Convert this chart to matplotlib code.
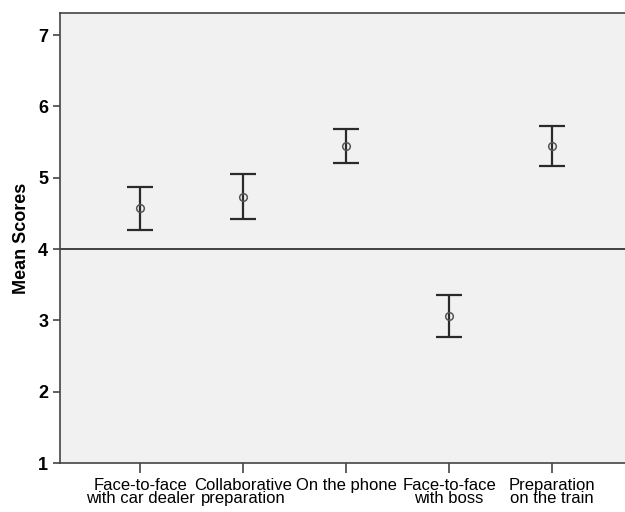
import matplotlib.pyplot as plt
import numpy as np

plt.rcParams['font.family'] = ['Liberation Sans', 'DejaVu Sans']

categories = ['Face-to-face\nwith car dealer', 'Collaborative\npreparation', 'On the phone',
              'Face-to-face\nwith boss', 'Preparation\non the train']
means = [4.57, 4.73, 5.445, 3.065, 5.44]
upper = [4.875, 5.05, 5.68, 3.36, 5.72]
lower = [4.27, 4.42, 5.21, 2.76, 5.16]

x = np.arange(1, len(categories) + 1)
means = np.array(means)
err = [means - np.array(lower), np.array(upper) - means]

fig = plt.figure(figsize=(6.25, 5.12), dpi=100)
ax = fig.add_axes([0.096, 0.0957, 0.904, 0.879])
ax.set_facecolor('#f1f1f1')

ax.axhline(4, color='#333333', lw=1.3, zorder=1)
ax.errorbar(x, means, yerr=err, fmt='none', ecolor='#2a2a2a', elinewidth=1.6,
            capsize=9.5, capthick=1.6, zorder=2)
ax.plot(x, means, 'o', ms=5.5, mfc='none', mec='#555555', mew=1.1, zorder=3)

ax.set_xlim(0.22, 5.71)
ax.set_ylim(1, 7.31)
ax.set_yticks([1, 2, 3, 4, 5, 6, 7])
ax.set_xticks(x)
ax.set_xticklabels(categories, fontsize=12, linespacing=0.9)
for lab in ax.get_yticklabels():
    lab.set_fontweight('bold')
    lab.set_fontsize(13)
ax.set_ylabel('Mean Scores', fontsize=13, fontweight='bold', labelpad=6)

for s in ['left', 'bottom', 'top']:
    ax.spines[s].set_color('#444444')
    ax.spines[s].set_linewidth(1.2)
ax.spines['right'].set_visible(False)
ax.tick_params(axis='both', color='#444444', width=1.2, length=5)
ax.tick_params(axis='x', length=7.5, pad=3)

plt.savefig('out.png', dpi=100)
